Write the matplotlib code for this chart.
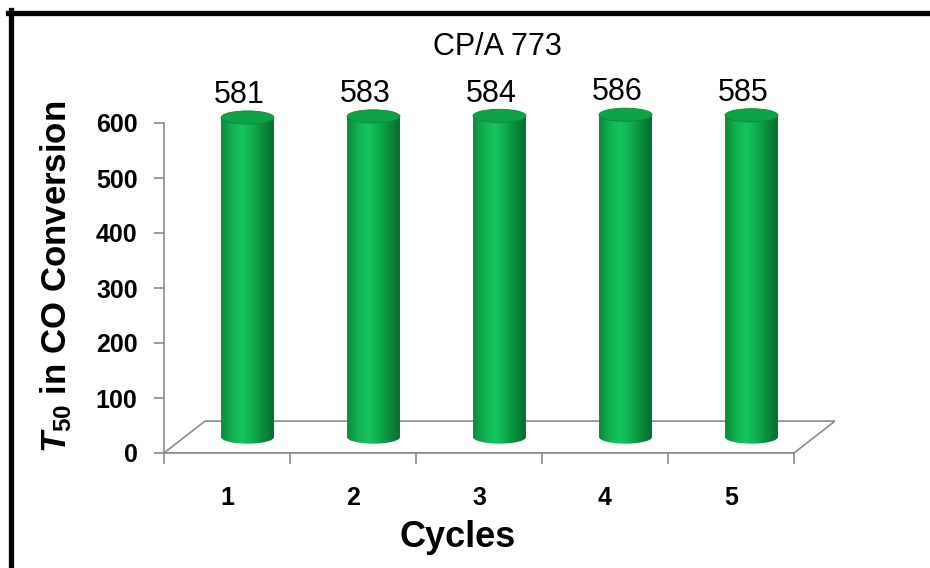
import numpy as np
import matplotlib
matplotlib.use("Agg")
import matplotlib.pyplot as plt
from matplotlib.patches import Polygon, Ellipse
from matplotlib.colors import LinearSegmentedColormap
from matplotlib.lines import Line2D

# Data
cycles = ['1', '2', '3', '4', '5']
t50 = [581, 583, 584, 586, 585]
title = 'CP/A 773'

plt.rcParams['font.family'] = ['Liberation Sans', 'DejaVu Sans']
plt.rcParams['mathtext.fontset'] = 'custom'
plt.rcParams['mathtext.rm'] = 'Liberation Sans:bold'
plt.rcParams['mathtext.bf'] = 'Liberation Sans:bold'
plt.rcParams['mathtext.it'] = 'Liberation Sans:italic:bold'

fig = plt.figure(figsize=(9.3, 5.68), dpi=100)
ax = fig.add_axes([164 / 930, 1 - 453 / 568, 671 / 930, 385 / 568])
ax.set_xlim(0, 671 / 126)
ax.set_ylim(0, 700)

# 3D depth offsets (floor)
dx, dy = 41 / 126, 58
grey = '#8c8c8c'
n = len(cycles)
ax.add_patch(Polygon([(0, 0), (n, 0), (n + dx, dy), (dx, dy)], closed=True,
                     facecolor='white', edgecolor=grey, lw=1.2, zorder=1))

# cylinders
cmap = LinearSegmentedColormap.from_list('cyl', ['#0b8a3a', '#10b050', '#15c45c',
                                                 '#0fae4e', '#0a8a3c', '#076c2e'])
grad = np.linspace(0, 1, 256).reshape(1, -1)
w = 0.42
eh = 24
for i, v in enumerate(t50):
    cx = i + 0.5 + dx / 2
    base = dy / 2
    top = base + v
    t = np.linspace(np.pi, 2 * np.pi, 60)
    xs = list(cx + w / 2 * np.cos(t)) + [cx + w / 2, cx - w / 2]
    ys = list(base + eh / 2 * np.sin(t)) + [top, top]
    clip = Polygon(np.column_stack([xs, ys]), closed=True, transform=ax.transData,
                   facecolor='none', edgecolor='none')
    ax.add_patch(clip)
    im = ax.imshow(grad, cmap=cmap, aspect='auto', zorder=2,
                   extent=(cx - w / 2, cx + w / 2, base - eh / 2, top))
    im.set_clip_path(clip)
    ax.add_patch(Ellipse((cx, top), w, eh, facecolor='#0ea246', edgecolor='#0b8a3a',
                         lw=0.6, zorder=3))
    ax.text(i + 0.5 + 0.095, top + 26, str(v), ha='center', va='baseline',
            fontsize=22, zorder=4)

# axes styling
for s in ['top', 'right']:
    ax.spines[s].set_visible(False)
ax.spines['left'].set_bounds(0, 600)
ax.spines['bottom'].set_bounds(0, n)
ax.spines['left'].set_color(grey)
ax.spines['bottom'].set_color(grey)
ax.spines['left'].set_linewidth(1.2)
ax.spines['bottom'].set_linewidth(1.2)
ax.set_yticks(range(0, 601, 100))
ax.tick_params(axis='y', length=7, color=grey, width=1.2, pad=12, labelsize=18)
for lab in ax.get_yticklabels():
    lab.set_fontweight('bold')
ax.set_xticks(np.arange(n) + 0.5)
ax.set_xticklabels(cycles, fontsize=18, fontweight='bold')
ax.set_xticks(np.arange(n + 1), minor=True)
ax.tick_params(axis='x', which='major', length=0, pad=24)
ax.tick_params(axis='x', which='minor', length=8, color=grey, width=1.2)

fig.text(497 / 930, 1 - 55 / 568, title, ha='center', va='baseline', fontsize=22)
fig.text(458 / 930, 1 - 547 / 568, 'Cycles', ha='center', va='baseline',
         fontsize=26, fontweight='bold')
fig.text(56 / 930, 1 - 277 / 568, r'$T_{50}$ in CO Conversion', ha='center',
         va='center', rotation=90, fontsize=25, fontweight='bold')

# frame lines (top and left only)
fig.add_artist(Line2D([8 / 930, 1], [1 - 12.5 / 568] * 2, color='black', lw=3.8,
                      transform=fig.transFigure))
fig.add_artist(Line2D([10.5 / 930] * 2, [0, 1 - 10 / 568], color='black', lw=3.8,
                      transform=fig.transFigure))

fig.savefig('out.png', dpi=100, facecolor='white')
